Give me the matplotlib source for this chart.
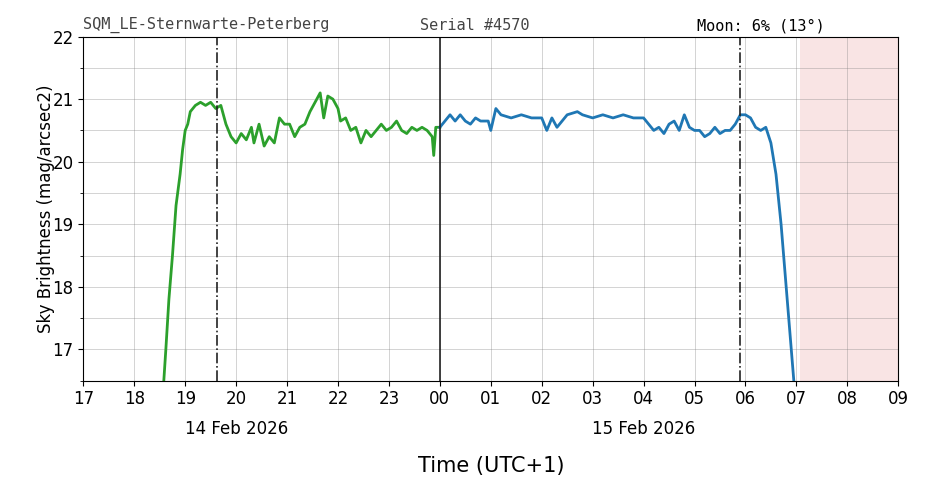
import matplotlib
matplotlib.use("Agg")
import matplotlib.pyplot as plt

# hours since 00:00 on 14 Feb 2026 (values > 24 are 15 Feb)
green_t = [18.58, 18.62, 18.68, 18.75, 18.82, 18.9, 18.95, 19.0, 19.05, 19.1, 19.2, 19.3, 19.4, 19.5,
           19.6, 19.7, 19.8, 19.9, 20.0, 20.1, 20.2, 20.3, 20.35, 20.45, 20.55, 20.65, 20.75, 20.85,
           20.95, 21.05, 21.15, 21.25, 21.35, 21.45, 21.55, 21.65, 21.72, 21.8, 21.9, 22.0, 22.05,
           22.15, 22.25, 22.35, 22.45, 22.55, 22.65, 22.75, 22.85, 22.95, 23.05, 23.15, 23.25, 23.35,
           23.45, 23.55, 23.65, 23.75, 23.85, 23.88, 23.92, 24.0]
green_m = [16.5, 17.0, 17.8, 18.5, 19.3, 19.8, 20.2, 20.5, 20.6, 20.8, 20.9, 20.95, 20.9, 20.95,
           20.85, 20.9, 20.6, 20.4, 20.3, 20.45, 20.35, 20.55, 20.3, 20.6, 20.25, 20.4, 20.3, 20.7,
           20.6, 20.6, 20.4, 20.55, 20.6, 20.8, 20.95, 21.1, 20.7, 21.05, 21.0, 20.85, 20.65,
           20.7, 20.5, 20.55, 20.3, 20.5, 20.4, 20.5, 20.6, 20.5, 20.55, 20.65, 20.5, 20.45,
           20.55, 20.5, 20.55, 20.5, 20.4, 20.1, 20.55, 20.55]
blue_t = [24.0, 24.1, 24.2, 24.3, 24.4, 24.5, 24.6, 24.7, 24.8, 24.95, 25.0, 25.1, 25.2, 25.4, 25.6,
          25.8, 26.0, 26.1, 26.2, 26.3, 26.5, 26.7, 26.8, 27.0, 27.2, 27.4, 27.6, 27.8, 28.0, 28.1,
          28.2, 28.3, 28.4, 28.5, 28.6, 28.7, 28.8, 28.9, 29.0, 29.1, 29.2, 29.3, 29.4, 29.5, 29.6,
          29.7, 29.8, 29.9, 30.0, 30.1, 30.2, 30.3, 30.4, 30.5, 30.6, 30.7, 30.8, 30.9, 30.95]
blue_m = [20.55, 20.65, 20.75, 20.65, 20.75, 20.65, 20.6, 20.7, 20.65, 20.65, 20.5, 20.85, 20.75, 20.7,
          20.75, 20.7, 20.7, 20.5, 20.7, 20.55, 20.75, 20.8, 20.75, 20.7, 20.75, 20.7, 20.75, 20.7,
          20.7, 20.6, 20.5, 20.55, 20.45, 20.6, 20.65, 20.5, 20.75, 20.55, 20.5, 20.5, 20.4, 20.45,
          20.55, 20.45, 20.5, 20.5, 20.6, 20.75, 20.75, 20.7, 20.55, 20.5, 20.55, 20.3, 19.8, 19.0,
          18.0, 17.0, 16.5]

twilight = [19.63, 29.9]
midnight = 24
daylight = (31.07, 33)
hours = list(range(17, 34))
hour_labels = ["%02d" % (h % 24) for h in hours]

fig, ax = plt.subplots(figsize=(9.26, 4.88), dpi=100)
fig.subplots_adjust(left=0.09, right=0.97, top=0.925, bottom=0.22)

ax.axvspan(*daylight, color="#f2c4c4", alpha=0.45, lw=0)
ax.plot(green_t, green_m, color="#2ca02c", lw=2)
ax.plot(blue_t, blue_m, color="#1f77b4", lw=2)
for t in twilight:
    ax.axvline(t, color="#222222", ls="-.", lw=1.2)
ax.axvline(midnight, color="#222222", lw=1.2)

ax.set_xlim(17, 33)
ax.set_ylim(16.5, 22)
ax.set_xticks(hours)
ax.set_xticklabels(hour_labels, fontsize=12)
ax.set_yticks([17, 18, 19, 20, 21, 22])
ax.set_yticks([16.5 + 0.5 * i for i in range(12)], minor=True)
ax.tick_params(axis="y", labelsize=12)
ax.grid(True, which="both", color="gray", alpha=0.4, lw=0.6)
ax.set_ylabel("Sky Brightness (mag/arcsec2)", fontsize=12, labelpad=-2)
ax.set_xlabel("Time (UTC+1)", fontsize=15, labelpad=34)

ax.text(20, -0.115, "14 Feb 2026", transform=ax.get_xaxis_transform(), ha="center", va="top", fontsize=12)
ax.text(28, -0.115, "15 Feb 2026", transform=ax.get_xaxis_transform(), ha="center", va="top", fontsize=12)

ax.text(0.0, 1.01, "SQM_LE-Sternwarte-Peterberg", transform=ax.transAxes, family="DejaVu Sans Mono",
        fontsize=11, color="#444444", va="bottom")
ax.text(0.413, 1.01, "Serial #4570", transform=ax.transAxes, family="DejaVu Sans Mono",
        fontsize=11, color="#444444", va="bottom")
ax.text(0.753, 1.01, "Moon: 6% (13°)", transform=ax.transAxes, family="DejaVu Sans Mono",
        fontsize=11, color="black", va="bottom")

fig.savefig("out.png", dpi=100)
